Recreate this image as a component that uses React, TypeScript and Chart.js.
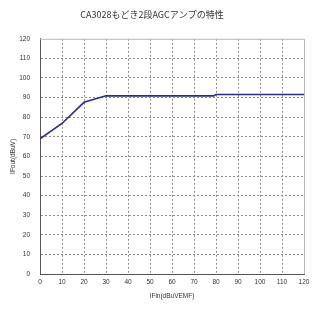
import React, { useEffect, useRef } from "react";
import { Chart, registerables } from "chart.js";
Chart.register(...registerables);

const titleText = "CA3028もどき2段AGCアンプの特性";
const xTitle = "IFin(dBuVEMF)";
const yTitle = "IFout(dBuV)";
const inputLevels = [0, 10, 20, 30, 40, 50, 60, 70, 79, 80, 90, 100, 110, 120];
const outputLevels = [69, 76.8, 87.6, 90.9, 90.9, 90.9, 90.9, 90.9, 90.9, 91.6, 91.6, 91.6, 91.6, 91.6];

const tickFont = { family: "'Liberation Sans Narrow', 'Liberation Sans', sans-serif", size: 6.5 };
const labelFont = { family: "'Liberation Sans', sans-serif", size: 6.5 };

export default function App() {
  const ref = useRef<HTMLCanvasElement>(null);
  useEffect(() => {
    document.body.style.margin = "0";
    const frame = {
      id: "frame",
      beforeDatasetsDraw(chart: any) {
        const { ctx, chartArea } = chart;
        ctx.save();
        ctx.strokeStyle = "#b8b8b8";
        ctx.lineWidth = 1;
        ctx.beginPath();
        ctx.moveTo(chartArea.left, chartArea.top + 0.5);
        ctx.lineTo(chartArea.right + 0.5, chartArea.top + 0.5);
        ctx.lineTo(chartArea.right + 0.5, chartArea.bottom);
        ctx.stroke();
        ctx.restore();
      },
    };
    const chart = new Chart(ref.current!, {
      type: "line",
      data: {
        datasets: [
          {
            data: inputLevels.map((x, i) => ({ x, y: outputLevels[i] })),
            borderColor: "#2a2a96",
            borderWidth: 1.6,
            pointRadius: 0,
            tension: 0,
            fill: false,
          },
        ],
      },
      options: {
        animation: false,
        responsive: false,
        devicePixelRatio: 1,
        layout: { padding: { left: 0, right: 16, top: 0, bottom: 0 } },
        plugins: {
          legend: { display: false },
          tooltip: { enabled: false },
          title: {
            display: true,
            text: titleText,
            color: "#333",
            font: { family: "'Noto Sans CJK JP', sans-serif", size: 9, weight: "normal" },
            padding: { top: 9, bottom: 19 },
          },
        },
        scales: {
          x: {
            type: "linear",
            min: 0,
            max: 120,
            ticks: { stepSize: 10, color: "#333", font: tickFont, padding: 4, maxRotation: 0 },
            grid: {
              drawTicks: false,
              color: (c: any) => (c.tick && c.tick.value === 120 ? "rgba(0,0,0,0)" : "#8c8c8c"),
              lineWidth: 1,
            },
            border: { display: true, color: "#555", width: 1, dash: [2, 2] },
            title: { display: true, text: xTitle, color: "#333", font: labelFont, padding: { top: 0, bottom: 9 } },
            afterFit: (s: any) => {
              s.height = 35;
            },
          },
          y: {
            type: "linear",
            min: 0,
            max: 120,
            ticks: { stepSize: 10, color: "#333", font: tickFont, padding: 10 },
            grid: {
              drawTicks: false,
              color: (c: any) => (c.tick && c.tick.value === 120 ? "rgba(0,0,0,0)" : "#8c8c8c"),
              lineWidth: 1,
            },
            border: { display: true, color: "#555", width: 1, dash: [2, 2] },
            title: { display: true, text: yTitle, color: "#333", font: labelFont, padding: { top: 9, bottom: 0 } },
            afterFit: (s: any) => {
              s.width = 40;
            },
          },
        },
      },
      plugins: [frame],
    });
    return () => chart.destroy();
  }, []);
  return (
    <div style={{ width: 320, height: 309, background: "#fff" }}>
      <canvas ref={ref} width={320} height={309} style={{ display: "block" }} />
    </div>
  );
}
